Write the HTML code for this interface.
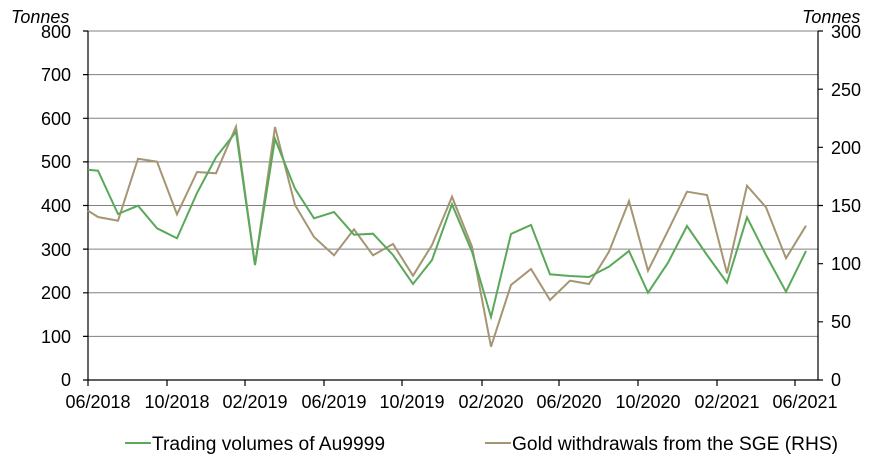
<!DOCTYPE html>
<html><head><meta charset="utf-8"><style>
body{margin:0;background:#fff;}
svg text{font-family:"Liberation Sans",Arial,sans-serif;font-size:18px;fill:#000;}
</style></head><body>
<svg width="890" height="466" xmlns="http://www.w3.org/2000/svg">
<g stroke="#808080" stroke-width="1">
<line x1="88" y1="31" x2="818" y2="31"/><line x1="88" y1="74.6" x2="818" y2="74.6"/>
<line x1="88" y1="118.3" x2="818" y2="118.3"/><line x1="88" y1="161.9" x2="818" y2="161.9"/>
<line x1="88" y1="205.5" x2="818" y2="205.5"/><line x1="88" y1="249.1" x2="818" y2="249.1"/>
<line x1="88" y1="292.8" x2="818" y2="292.8"/><line x1="88" y1="336.4" x2="818" y2="336.4"/>
</g>
<g stroke="#000" stroke-width="1.2" fill="none">
<line x1="88" y1="31" x2="88" y2="380"/><line x1="818" y1="31" x2="818" y2="380"/>
<line x1="88" y1="380" x2="818" y2="380"/>
<path d="M83 31h5M83 74.6h5M83 118.3h5M83 161.9h5M83 205.5h5M83 249.1h5M83 292.8h5M83 336.4h5M83 380h5"/>
<path d="M818 31h5M818 89.2h5M818 147.3h5M818 205.5h5M818 263.7h5M818 321.8h5M818 380h5"/>
<path d="M88 380v6M167 380v6M245 380v6M324 380v6M402 380v6M482 380v6M559 380v6M638 380v6M717 380v6M795 380v6"/>
</g>
<g text-anchor="end">
<text x="71" y="38">800</text><text x="71" y="81">700</text><text x="71" y="125">600</text><text x="71" y="168">500</text><text x="71" y="212">400</text><text x="71" y="256">300</text><text x="71" y="299">200</text><text x="71" y="343">100</text><text x="71" y="386">0</text>
</g>
<g>
<text x="831" y="38">300</text><text x="831" y="96">250</text><text x="831" y="154">200</text><text x="831" y="212">150</text><text x="831" y="270">100</text><text x="831" y="328">50</text><text x="831" y="386">0</text>
</g>
<text x="11" y="23" font-style="italic">Tonnes</text>
<text x="802" y="23" font-style="italic">Tonnes</text>
<g text-anchor="middle" style="font-size:19px">
<text x="98" y="408">06/2018</text><text x="177" y="408">10/2018</text><text x="255" y="408">02/2019</text><text x="334" y="408">06/2019</text><text x="412" y="408">10/2019</text><text x="491" y="408">02/2020</text><text x="569" y="408">06/2020</text><text x="648" y="408">10/2020</text><text x="727" y="408">02/2021</text><text x="805" y="408">06/2021</text>
</g>
<polyline fill="none" stroke="#a59573" stroke-width="2" points="88,210.7 98,217 118,220.7 138,158.7 157,161.7 177,214.3 197,172 216,173.3 236,126.7 255,265 275,127 295,205 314,237 334,255.3 354,229.3 373,255.3 393,244 413,275.7 432,245 452,196.7 472,246.7 491,346.7 511,285 531,269 550,300 570,280.7 589,284 609,251.7 629,201 648,270.7 668,230.7 687,191.7 707,195 727,273.3 747,185.7 766,207.3 786,258.3 806,225.7"/>
<polyline fill="none" stroke="#5aa85a" stroke-width="2" points="88,169.7 98,170.7 118,214 138,205.7 157,228.3 177,238.3 197,193 216,157.3 236,131.7 255,265 275,139 295,188.7 314,218.3 334,212 354,234.7 373,233.7 393,255 413,284 432,260 452,204.3 472,251.7 491,317 511,234 531,225 550,274.3 570,276 589,277 609,266.7 629,251 648,292.7 668,262.7 687,226 707,255 727,282.7 747,217.3 766,255 786,291.7 806,251"/>
<line x1="125" y1="443" x2="151" y2="443" stroke="#5aa85a" stroke-width="2"/>
<text x="152" y="450" textLength="233" lengthAdjust="spacingAndGlyphs" style="font-size:19px">Trading volumes of Au9999</text>
<line x1="485" y1="443" x2="511" y2="443" stroke="#a59573" stroke-width="2"/>
<text x="512" y="450" textLength="326" lengthAdjust="spacingAndGlyphs" style="font-size:19px">Gold withdrawals from the SGE (RHS)</text>
</svg>
</body></html>
